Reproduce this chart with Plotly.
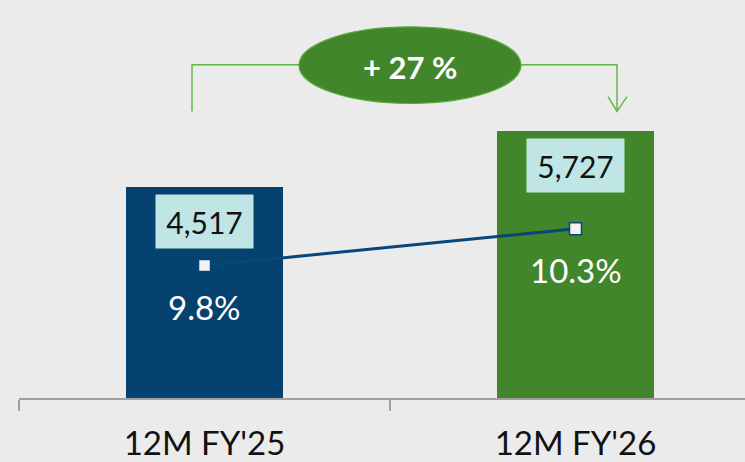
import plotly.graph_objects as go

categories = ["12M FY'25", "12M FY'26"]
values = [4517, 5727]
value_labels = ["4,517", "5,727"]
margins = [9.8, 10.3]
margin_labels = ["9.8%", "10.3%"]
bar_colors = ["#05426f", "#42862c"]
growth_label = "+ 27 %"

W, H = 745, 462
L, T, PB = 19, 0, 400  # plot left, top, bottom in px
PW, PH = W - L, PB - T

def px(x):
    return (x - L) / PW

def py(y):
    return (PB - y) / PH

FONT = "Lato, 'Open Sans', sans-serif"

fig = go.Figure()
fig.add_trace(go.Bar(
    x=categories, y=values, marker=dict(color=bar_colors, line=dict(width=0)),
    width=0.423, hoverinfo="skip", showlegend=False,
))
fig.add_trace(go.Scatter(
    x=categories, y=margins, yaxis="y2", mode="lines+markers",
    line=dict(color="#08467a", width=3),
    marker=dict(symbol="square", size=12, color="#f2f2f2",
                line=dict(color="#08467a", width=1.5)),
    hoverinfo="skip", showlegend=False,
))

annotations = []
for c, v, lab in zip(categories, values, value_labels):
    annotations.append(dict(
        x=c, y=v, xref="x", yref="y", text=lab, showarrow=False,
        yanchor="middle", yshift=-34, width=95, height=51,
        bgcolor="#bfe5e5", font=dict(family=FONT, size=30, color="#111111"),
    ))
for c, m, lab in zip(categories, margins, margin_labels):
    annotations.append(dict(
        x=c, y=m, xref="x", yref="y2", text=lab, showarrow=False,
        yanchor="middle", yshift=-41,
        font=dict(family=FONT, size=33, color="#ffffff"),
    ))
annotations.append(dict(
    x=px(410), y=py(67), xref="paper", yref="paper", text="<b>" + growth_label + "</b>",
    showarrow=False, xanchor="center", yanchor="middle",
    font=dict(family=FONT, size=31, color="#ffffff"),
))

green_line = dict(color="#5db543", width=1.4)
shapes = [
    dict(type="path", xref="paper", yref="paper", line=green_line,
         path=f"M {px(192)},{py(112)} L {px(192)},{py(65)} L {px(300)},{py(65)}"),
    dict(type="path", xref="paper", yref="paper", line=green_line,
         path=f"M {px(520)},{py(65)} L {px(617)},{py(65)} L {px(617)},{py(112)}"),
    dict(type="path", xref="paper", yref="paper", line=green_line,
         path=f"M {px(608)},{py(97)} L {px(617)},{py(112)} L {px(627)},{py(97)}"),
    dict(type="circle", xref="paper", yref="paper",
         x0=px(299), x1=px(521), y0=py(104), y1=py(27),
         fillcolor="#42862c", line=dict(color="#5aa83c", width=1.2)),
]

fig.update_layout(
    width=W, height=H,
    margin=dict(l=L, r=0, t=T, b=H - PB, pad=0),
    paper_bgcolor="#ebebeb", plot_bgcolor="#ebebeb",
    xaxis=dict(
        range=[-0.5, -0.5 + PW / 371], type="category",
        showline=True, linecolor="#a0a0a0", linewidth=1.5,
        ticks="outside", tickson="boundaries", ticklen=11, tickcolor="#a0a0a0",
        tickwidth=1.5, showgrid=False, zeroline=False,
        tickfont=dict(family=FONT, size=33, color="#111111"),
        ticklabelstandoff=16,
    ),
    yaxis=dict(range=[0, 8540], visible=False, showgrid=False, zeroline=False),
    yaxis2=dict(range=[8.0, 13.41], overlaying="y", visible=False,
                showgrid=False, zeroline=False),
    annotations=annotations, shapes=shapes,
    bargap=0,
)

fig.write_html("out.html", config={"displayModeBar": False},
               post_script="document.body.style.margin='0px';")
